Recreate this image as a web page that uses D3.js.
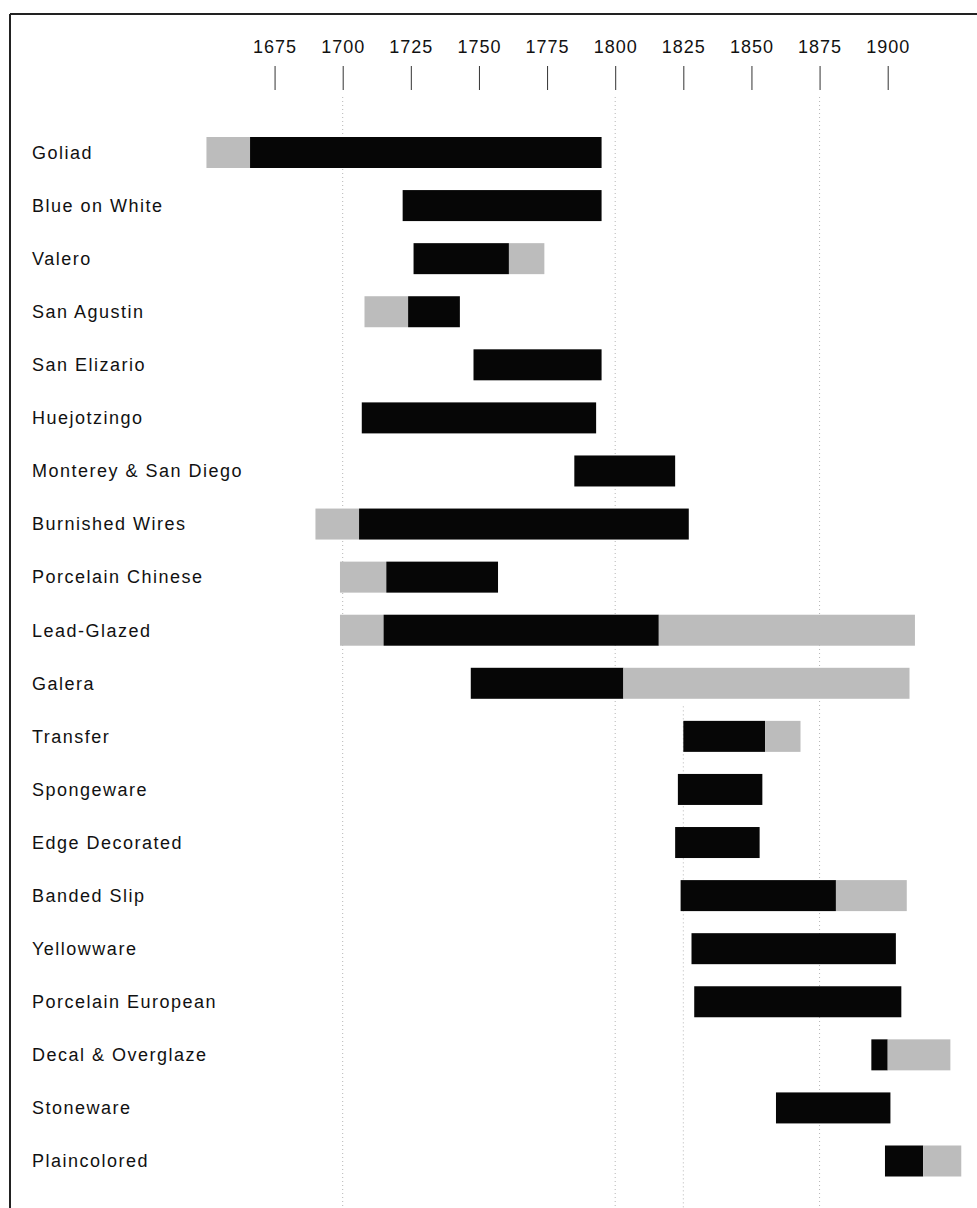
<!DOCTYPE html>
<html>
<head>
<meta charset="utf-8">
<script src="https://cdn.jsdelivr.net/npm/d3@7"></script>
<style>
  body { margin: 0; background: #fff; }
  text { font-family: "Liberation Sans", Arial, Helvetica, sans-serif; fill: #111; }
</style>
</head>
<body>
<svg width="977" height="1208"></svg>
<script>
// ceramic types, top to bottom
let wares = [
  'Goliad', 'Blue on White', 'Valero', 'San Agustin', 'San Elizario',
  'Huejotzingo', 'Monterey & San Diego', 'Burnished Wires', 'Porcelain Chinese',
  'Lead-Glazed', 'Galera', 'Transfer', 'Spongeware', 'Edge Decorated',
  'Banded Slip', 'Yellowware', 'Porcelain European', 'Decal & Overglaze',
  'Stoneware', 'Plaincolored'
]
// possible earlier start (grey), main range (black), possible later end (grey)
let earlyStart = [1650, null, null, 1708, null, null, null, 1690, 1699, 1699, null, null, null, null, null, null, null, null, null, null]
let mainStart  = [1666, 1722, 1726, 1724, 1748, 1707, 1785, 1706, 1716, 1715, 1747, 1825, 1823, 1822, 1824, 1828, 1829, 1894, 1859, 1899]
let mainEnd    = [1795, 1795, 1761, 1743, 1795, 1793, 1822, 1827, 1757, 1816, 1803, 1855, 1854, 1853, 1881, 1903, 1905, 1900, 1901, 1913]
let lateEnd    = [null, null, 1774, null, null, null, null, null, null, 1910, 1908, 1868, null, null, 1907, null, null, 1923, null, 1927]

let tickYears = [1675, 1700, 1725, 1750, 1775, 1800, 1825, 1850, 1875, 1900]
let gridYears = [1700, 1800, 1875]

let width = 977
let height = 1208
let barHeight = 31

let svg = d3.select('svg')

let xScale = d3.scaleLinear()
  .domain([1700, 1900])
  .range([342.7, 887.7])

let yScale = d3.scalePoint()
  .domain(wares)
  .range([152.5, 1161])

// build segments from the arrays
let segments = []
wares.forEach((w, i) => {
  if (earlyStart[i] != null) segments.push({ ware: w, from: earlyStart[i], to: mainStart[i], kind: 'grey' })
  segments.push({ ware: w, from: mainStart[i], to: mainEnd[i], kind: 'black' })
  if (lateEnd[i] != null) segments.push({ ware: w, from: mainEnd[i], to: lateEnd[i], kind: 'grey' })
})

// frame (top and left rules)
svg.append('line')
  .attr('x1', 10).attr('x2', width)
  .attr('y1', 14).attr('y2', 14)
  .attr('stroke', '#222').attr('stroke-width', 2)
svg.append('line')
  .attr('x1', 10).attr('x2', 10)
  .attr('y1', 14).attr('y2', height)
  .attr('stroke', '#222').attr('stroke-width', 2)

// dotted grid
svg.append('g')
  .selectAll('line')
  .data(gridYears)
  .enter()
  .append('line')
  .attr('x1', d => xScale(d)).attr('x2', d => xScale(d))
  .attr('y1', 97).attr('y2', height)
  .attr('stroke', '#b5b5b5')
  .attr('stroke-dasharray', '1,3')

// the 1825 line only shows from the Transfer row down
svg.append('line')
  .attr('x1', xScale(1825)).attr('x2', xScale(1825))
  .attr('y1', yScale('Transfer') - 30).attr('y2', height)
  .attr('stroke', '#b5b5b5')
  .attr('stroke-dasharray', '1,3')

// year axis on top
let axis = svg.append('g')
  .attr('transform', 'translate(0, 90)')
  .call(d3.axisTop(xScale)
    .tickValues(tickYears)
    .tickFormat(d3.format('d'))
    .tickSize(24)
    .tickPadding(13))
axis.select('.domain').remove()
axis.selectAll('.tick line').attr('stroke', '#333')
axis.selectAll('.tick text')
  .attr('font-size', 18)
  .attr('letter-spacing', 1)
  .attr('fill', '#111')
  .style('font-family', '"Liberation Sans", Arial, Helvetica, sans-serif')

// bars
svg.append('g')
  .selectAll('rect')
  .data(segments)
  .enter()
  .append('rect')
  .attr('x', d => xScale(d.from))
  .attr('y', d => yScale(d.ware) - barHeight / 2)
  .attr('width', d => xScale(d.to) - xScale(d.from))
  .attr('height', barHeight)
  .attr('fill', d => d.kind == 'black' ? '#060606' : '#bcbcbc')

// row labels
svg.append('g')
  .selectAll('text')
  .data(wares)
  .enter()
  .append('text')
  .attr('x', 32)
  .attr('y', d => yScale(d))
  .attr('dy', '0.35em')
  .attr('font-size', 18)
  .attr('letter-spacing', 1.5)
  .text(d => d)
</script>
</body>
</html>
